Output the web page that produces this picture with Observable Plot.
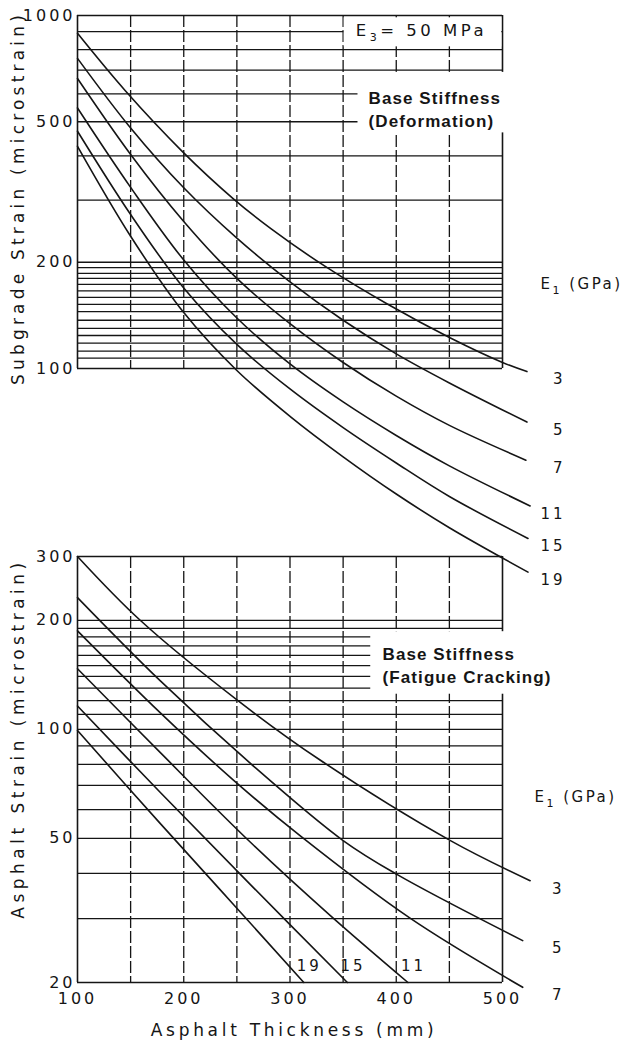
<!DOCTYPE html>
<html>
<head>
<meta charset="utf-8">
<script src="https://cdn.jsdelivr.net/npm/d3@7"></script>
<script src="https://cdn.jsdelivr.net/npm/@observablehq/plot@0.6"></script>
<style>
  body { margin: 0; background: #fff; }
  #wrap { position: relative; width: 625px; height: 1046px; overflow: hidden; }
  #top, #bot { position: absolute; left: 0; }
  #top { top: 0; z-index: 2; }
  #bot { top: 540px; z-index: 1; }
  svg text { letter-spacing: 3px; }
  g[font-weight="bold"] text { letter-spacing: 1.1px; }
</style>
</head>
<body>
<div id="wrap"><div id="top"></div><div id="bot"></div></div>
<script>
const E1 = [3, 5, 7, 11, 15, 19]; // GPa

// Top panel: subgrade strain (microstrain) vs asphalt thickness (mm)
const subgrade3  = [[100,890],[145,612],[199,411],[247,302],[282,249],[335,193],[392,152],[451,122],[500,104],[523,98]];
const subgrade5  = [[100,756],[150,480],[200,325],[250,234],[300,176],[350,137],[400,110],[450,91],[523,70.5]];
const subgrade7  = [[100,663],[150,404],[200,261],[250,180],[300,134],[350,104],[400,83.5],[450,69],[522,55]];
const subgrade11 = [[100,547],[150,326],[200,203],[250,139],[300,103],[350,80.4],[400,64.6],[450,53],[526,40.8]];
const subgrade15 = [[100,470],[150,273],[200,169],[250,117],[300,87.5],[350,68],[400,54],[450,43.4],[524,33]];
const subgrade19 = [[100,426],[150,237],[200,144],[250,98.7],[300,73.2],[350,56.2],[400,44.1],[450,35.4],[524,26.5]];

// Bottom panel: asphalt strain (microstrain) vs asphalt thickness (mm)
const asphalt3  = [[100,300],[159,200],[251,120],[329,82],[451,49.3],[526,38.2]];
const asphalt5  = [[100,231],[178,136],[263,80.4],[350,49.3],[401,39.7],[519,26.1]];
const asphalt7  = [[100,187],[178,111],[247,72.3],[310,50.7],[413,30.1],[519,19.4]];
const asphalt11 = [[100,147],[178,86.2],[263,48.7],[338,30.6],[411,20]];
const asphalt15 = [[100,116],[178,66.9],[263,37.2],[354,20]];
const asphalt19 = [[100,99.2],[178,54.9],[247,32.8],[313,20]];

// ticks and grid values
const thicknessTicks = [100, 200, 300, 400, 500];
const thicknessGrid  = [150, 200, 250, 300, 350, 400, 450];
const subgradeTicks  = [100, 200, 500, 1000];
const subgradeGrid   = [900, 800, 700, 600, 500, 400, 300, 200, 193, 186, 180, 173, 166, 159, 152, 145, 137, 130, 124, 118, 112, 107];
const asphaltTicks   = [20, 50, 100, 200, 300];
const asphaltGrid    = [30, 40, 50, 60, 70, 80, 90, 100, 110, 120, 130, 140, 150, 160, 170, 180, 190, 200];

// ---------- build tables ----------
const subgradeCurves = [subgrade3, subgrade5, subgrade7, subgrade11, subgrade15, subgrade19];
const asphaltCurves  = [asphalt3, asphalt5, asphalt7, asphalt11, asphalt15, asphalt19];
const toRows = curves => curves.flatMap((pts, i) => pts.map(([x, v]) => ({E: E1[i], x, v})));
const toEnds = curves => curves.map((pts, i) => ({E: String(E1[i]), x: pts[pts.length - 1][0], v: pts[pts.length - 1][1]}));
const topRows = toRows(subgradeCurves), topEnds = toEnds(subgradeCurves);
const botRows = toRows(asphaltCurves), botEnds = toEnds(asphaltCurves);

const ink = "#151515";
const baseStyle = {background: "transparent", overflow: "visible", fontFamily: "'DejaVu Sans', sans-serif", fontSize: "16px", color: ink};
const boldFont = "'Liberation Sans', Arial, sans-serif";
const plain = d => String(d);

// ---------- top panel ----------
const topPlot = Plot.plot({
  width: 625, height: 600,
  marginLeft: 77, marginRight: 123, marginTop: 15, marginBottom: 232,
  style: baseStyle,
  x: {domain: [100, 500], axis: null},
  y: {type: "log", domain: [100, 1000], axis: null},
  marks: [
    Plot.ruleY(subgradeGrid, {stroke: ink, strokeWidth: 1.3}),
    Plot.ruleX(thicknessGrid, {stroke: ink, strokeWidth: 1.3, strokeDasharray: "12,3"}),
    Plot.ruleY([100, 1000], {stroke: ink, strokeWidth: 1.6}),
    Plot.ruleX([100, 500], {stroke: ink, strokeWidth: 1.6}),
    // label cells
    Plot.rect([{a: 351, b: 499.3, c: 985, d: 815}], {x1: "a", x2: "b", y1: "c", y2: "d", fill: "white"}),
    Plot.rect([{a: 364, b: 560, c: 690, d: 465}], {x1: "a", x2: "b", y1: "c", y2: "d", fill: "white"}),
    Plot.line(topRows, {x: "x", y: "v", z: "E", curve: "catmull-rom", stroke: ink, strokeWidth: 1.6}),
    Plot.axisY(subgradeTicks, {anchor: "left", tickSize: 0, tickPadding: 2, label: null, fontSize: 16, tickFormat: plain}),
    Plot.text(["Subgrade Strain (microstrain)"], {frameAnchor: "left", rotate: -90, dx: -59, dy: 6, textAnchor: "middle", lineAnchor: "middle", fontSize: 17}),
    Plot.text(topEnds, {y: "v", text: "E", frameAnchor: "right", dx: 63, dy: 8, textAnchor: "end", lineAnchor: "middle", fontSize: 15}),
    Plot.text(["E₁ (GPa)"], {frameAnchor: "top-right", dx: 38, dy: 269, textAnchor: "start", lineAnchor: "middle", fontSize: 15}),
    Plot.text(["E₃= 50 MPa"], {frameAnchor: "top-right", dx: -81, dy: 15, textAnchor: "middle", lineAnchor: "middle", fontSize: 16.5}),
    Plot.text(["Base Stiffness\n(Deformation)"], {frameAnchor: "top-right", dx: -134, dy: 92.5, textAnchor: "start", lineAnchor: "middle",
      fontSize: 17, fontWeight: "bold", fontFamily: boldFont, lineHeight: 1.35})
  ]
});
document.getElementById("top").appendChild(topPlot);

// ---------- bottom panel ----------
const botPlot = Plot.plot({
  width: 625, height: 506,
  marginLeft: 77, marginRight: 123, marginTop: 16, marginBottom: 64,
  style: baseStyle,
  x: {domain: [100, 500], axis: null},
  y: {type: "log", domain: [20, 300], axis: null},
  marks: [
    Plot.ruleY(asphaltGrid, {stroke: ink, strokeWidth: 1.3}),
    Plot.ruleX(thicknessGrid, {stroke: ink, strokeWidth: 1.3, strokeDasharray: "12,3"}),
    Plot.ruleY([20, 300], {stroke: ink, strokeWidth: 1.6}),
    Plot.ruleX([100, 500], {stroke: ink, strokeWidth: 1.6}),
    Plot.rect([{a: 376, b: 560, c: 186, d: 125}], {x1: "a", x2: "b", y1: "c", y2: "d", fill: "white"}),
    Plot.line(botRows, {x: "x", y: "v", z: "E", curve: "catmull-rom", stroke: ink, strokeWidth: 1.6}),
    Plot.axisY(asphaltTicks, {anchor: "left", tickSize: 0, tickPadding: 2, label: null, fontSize: 16, tickFormat: plain}),
    Plot.axisX(thicknessTicks, {anchor: "bottom", tickSize: 0, tickPadding: 10, label: null, fontSize: 16, tickFormat: plain}),
    Plot.text(["Asphalt Strain (microstrain)"], {frameAnchor: "left", rotate: -90, dx: -59, dy: -31, textAnchor: "middle", lineAnchor: "middle", fontSize: 17}),
    Plot.text(["Asphalt Thickness (mm)"], {frameAnchor: "bottom", dx: 4, dy: 48, textAnchor: "middle", lineAnchor: "middle", fontSize: 17}),
    Plot.text(botEnds.slice(0, 3), {y: "v", text: "E", frameAnchor: "right", dx: 62, dy: 8, textAnchor: "end", lineAnchor: "middle", fontSize: 15}),
    Plot.text(botEnds.slice(3), {x: "x", y: "v", text: "E", dx: -7, dy: -16, textAnchor: "start", lineAnchor: "middle", fontSize: 15}),
    Plot.text(["E₁ (GPa)"], {frameAnchor: "top-right", dx: 32, dy: 241, textAnchor: "start", lineAnchor: "middle", fontSize: 15}),
    Plot.text(["Base Stiffness\n(Fatigue Cracking)"], {frameAnchor: "top-right", dx: -120, dy: 108, textAnchor: "start", lineAnchor: "middle",
      fontSize: 17, fontWeight: "bold", fontFamily: boldFont, lineHeight: 1.35})
  ]
});
document.getElementById("bot").appendChild(botPlot);

// per-text letter spacing to match the wide plotter lettering
const spacing = {
  "Subgrade Strain (microstrain)": 4.2,
  "Asphalt Strain (microstrain)": 4.5,
  "Asphalt Thickness (mm)": 3.7,
  "E₁ (GPa)": 2.5,
  "E₃= 50 MPa": 3.5
};
// true subscripts for the modulus symbols
const subscripts = {
  "E₁ (GPa)": ["E", "1", " (GPa)"],
  "E₃= 50 MPa": ["E", "3", "= 50 MPa"]
};
const SVGNS = "http://www.w3.org/2000/svg";
d3.selectAll("#wrap svg text").each(function () {
  const t = this.textContent;
  const s = spacing[t];
  if (s != null) this.style.letterSpacing = s + "px";
  const parts = subscripts[t];
  if (parts) {
    this.textContent = "";
    const [base, sub, rest] = parts;
    const a = document.createElementNS(SVGNS, "tspan"); a.textContent = base;
    const b = document.createElementNS(SVGNS, "tspan"); b.textContent = sub;
    b.setAttribute("dy", "5"); b.setAttribute("font-size", "11");
    const c = document.createElementNS(SVGNS, "tspan"); c.textContent = rest;
    c.setAttribute("dy", "-5");
    this.append(a, b, c);
  }
});
</script>
</body>
</html>
